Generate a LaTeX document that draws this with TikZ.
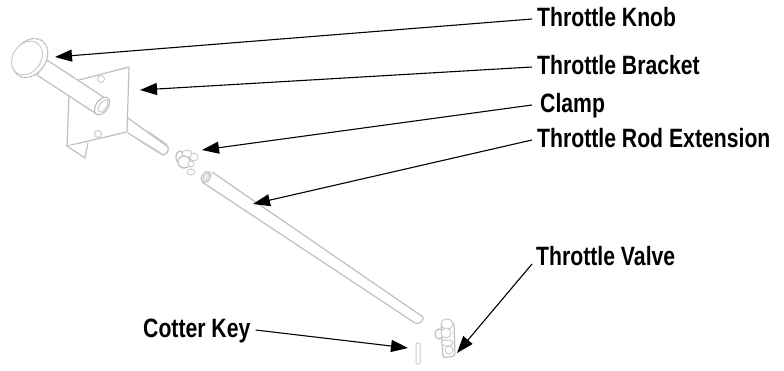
\documentclass[tikz,border=0pt]{standalone}
\usepackage{fontspec}
\setmainfont[FakeStretch=0.8]{Liberation Sans}
\usetikzlibrary{arrows.meta}
\begin{document}
\begin{tikzpicture}
[x=1pt,y=-1pt,
ar/.style={-{Triangle[length=17pt,width=12pt]},line width=1.1pt},
lab/.style={anchor=west,inner sep=0pt,inner xsep=5pt,text height=18.2pt,text depth=3pt,font=\fontsize{26.5}{26.5}\selectfont\bfseries},
part/.style={draw=gray!50,line width=1.2pt,fill=white,line join=round},
thin part/.style={draw=gray!40,line width=1pt,fill=white}]
\useasboundingbox (0,0) rectangle (784,371);

% bracket
\draw [part] (75,81) -- (129,67) -- (127,132) -- (67,146) -- (69,95);
\draw [part] (67,146) -- (85,158) -- (88,143);
\draw [thin part] (101,79) circle (3.5);
\draw [thin part] (98,134) circle (3.5);

% shaft and knob
\draw [part] (128,118) -- (168,147) to [bend left=50] (163,155) -- (128,133);
\draw [part,line width=1.8pt,draw=gray!45] (148,132) -- (167,145);
\draw [part,line width=1.8pt,draw=gray!45] (142,142) -- (160,153);
\draw [part] (47,60) -- (108,100) -- (95,113) -- (37,75) -- cycle;
\draw [part,rotate around={-35:(102,106)}] (102,106) ellipse (6 and 10);
\draw [thin part,rotate around={-35:(103,106)}] (103,106) ellipse (3.5 and 7);
\draw [part,dash pattern=on 4pt off .7pt,rotate around={-35:(30,58)}] (30,58) ellipse (16 and 21);
\draw [thin part,rotate around={-35:(27,58)}] (27,58) ellipse (14 and 18);

% clamp
\draw [part] (180,157) ellipse (4 and 6);
\draw [thin part] (187,154) ellipse (5 and 4);
\draw [thin part] (194,157) ellipse (4 and 4);
\draw [part] (184,162) ellipse (6 and 6);
\draw [thin part] (191,164) circle (3);
\draw [thin part] (191,172) ellipse (4 and 3);

% rod extension
\draw [part] (212,172) -- (423,317) to [bend left=70] (415,323) -- (202,182);
\draw [part,rotate around={-35:(206,177)}] (206,177) ellipse (4 and 6);
\draw [thin part,rotate around={-35:(206,177)}] (206,177) ellipse (2 and 4);

% cotter key
\draw [thin part,rounded corners=1pt] (416,343) rectangle (420,364);

% valve
\draw [part,rounded corners=3pt] (441,322) -- (454,322) -- (455,356) -- (443,358) -- cycle;
\draw [thin part] (447,324) ellipse (6 and 5);
\draw [part] (439,334) ellipse (4 and 5);
\draw [thin part] (446,333) ellipse (5 and 5);
\draw [thin part] (447,343) ellipse (6 and 3);
\draw [thin part] (449,350) circle (4);

\node [lab] at (532,19) (knob) {Throttle Knob};
\node [lab] at (532,67) (bracket) {Throttle Bracket};
\node [lab] at (535,105) (clamp) {Clamp};
\node [lab] at (532,140) (rod) {Throttle Rod Extension};
\node [lab] at (531,258) (valve) {Throttle Valve};
\node [lab] at (138,330) (cotter) {Cotter Key};
\coordinate (valvestart) at (532,264);

\coordinate (knobtip) at (55,57);
\coordinate (brackettip) at (140,90);
\coordinate (clamptip) at (202,150);
\coordinate (rodtip) at (253,204);
\coordinate (valvetip) at (457,353);
\coordinate (cottertip) at (408,348);

\draw [ar] (knob.west) -- (knobtip);
\draw [ar] (bracket.west) -- (brackettip);
\draw [ar] (clamp.west) ++(-3,0) -- (clamptip);
\draw [ar] (rod.west) -- (rodtip);
\draw [ar] (valvestart) -- (valvetip);
\draw [ar] (cotter.east) -- (cottertip);
\end{tikzpicture}
\end{document}
